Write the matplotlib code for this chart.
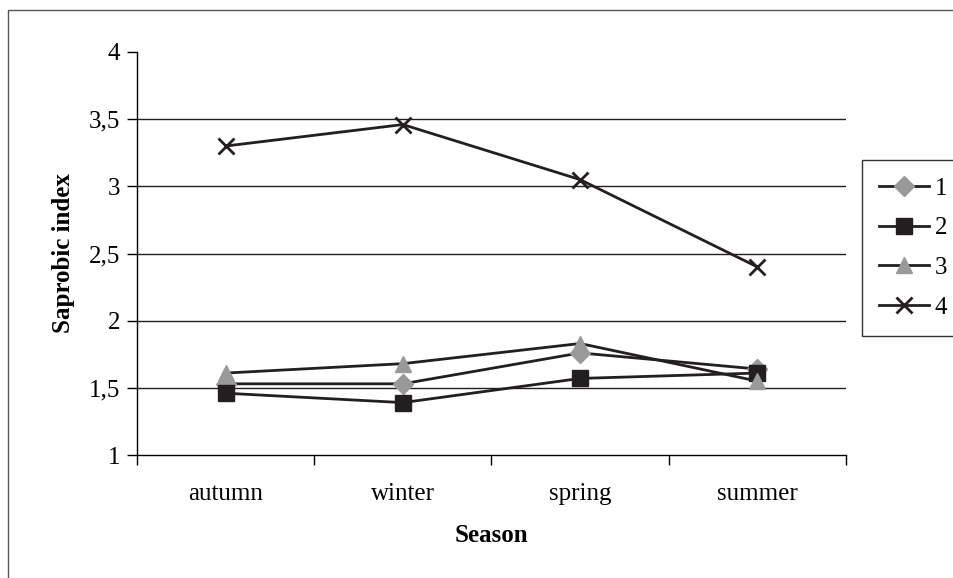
import matplotlib.pyplot as plt
from matplotlib.patches import Rectangle

seasons = ['autumn', 'winter', 'spring', 'summer']
s1 = [1.53, 1.53, 1.76, 1.64]
s2 = [1.46, 1.39, 1.57, 1.61]
s3 = [1.61, 1.68, 1.83, 1.55]
s4 = [3.30, 3.46, 3.05, 2.40]
labels = ['1', '2', '3', '4']

plt.rcParams['font.family'] = 'Liberation Serif'
line_col = '#231f20'
grey = '#999999'

fig = plt.figure(figsize=(9.54, 5.78), dpi=100)
fig.patches.append(Rectangle((8/954, -0.01), 1.0, 1 - 10/578 + 0.01, transform=fig.transFigure,
                             fill=False, edgecolor='#555555', linewidth=1.0))
ax = fig.add_axes([137/954, 1 - 455/578, (846 - 137)/954, (455 - 52)/578])

x = range(len(seasons))
ax.plot(x, s1, '-', color=line_col, lw=2, marker='D', ms=10, mfc=grey, mec=grey, label=labels[0])
ax.plot(x, s2, '-', color=line_col, lw=2, marker='s', ms=11, mfc=line_col, mec=line_col, label=labels[1])
ax.plot(x, s3, '-', color=line_col, lw=2, marker='^', ms=12, mfc=grey, mec=grey, label=labels[2])
ax.plot(x, s4, '-', color=line_col, lw=2, marker='x', ms=11, mew=2, mec=line_col, label=labels[3])

ax.set_xlim(-0.5, 3.5)
ax.set_ylim(1, 4)
ax.set_yticks([1, 1.5, 2, 2.5, 3, 3.5, 4])
ax.set_yticklabels(['1', '1,5', '2', '2,5', '3', '3,5', '4'], fontsize=18)
for v in [1.5, 2, 2.5, 3, 3.5]:
    ax.axhline(v, color='#231f20', lw=1.0, zorder=0)
ax.set_xticks(list(x))
ax.set_xticklabels(seasons, fontsize=18)
ax.set_xticks([-0.5, 0.5, 1.5, 2.5, 3.5], minor=True)
ax.tick_params(axis='x', which='major', length=0, pad=20)
ax.tick_params(axis='x', which='minor', length=7, direction='out', width=1)
ax.tick_params(axis='y', length=7, width=1, pad=5)
for sp in ['top', 'right']:
    ax.spines[sp].set_visible(False)
ax.spines['left'].set_linewidth(1)
ax.spines['bottom'].set_linewidth(1)
ax.set_xlabel('Season', fontsize=18, fontweight='bold', labelpad=14)
ax.set_ylabel('Saprobic index', fontsize=18, fontweight='bold', labelpad=10)

leg = fig.legend(loc='upper left', bbox_to_anchor=(862/954, 1 - 160/578), fontsize=18,
                 frameon=True, fancybox=False, edgecolor='black', handlelength=2.0,
                 handletextpad=0.2, labelspacing=0.68, borderpad=0.7, borderaxespad=0)
leg.get_frame().set_linewidth(1)

plt.savefig('out.png', dpi=100)
